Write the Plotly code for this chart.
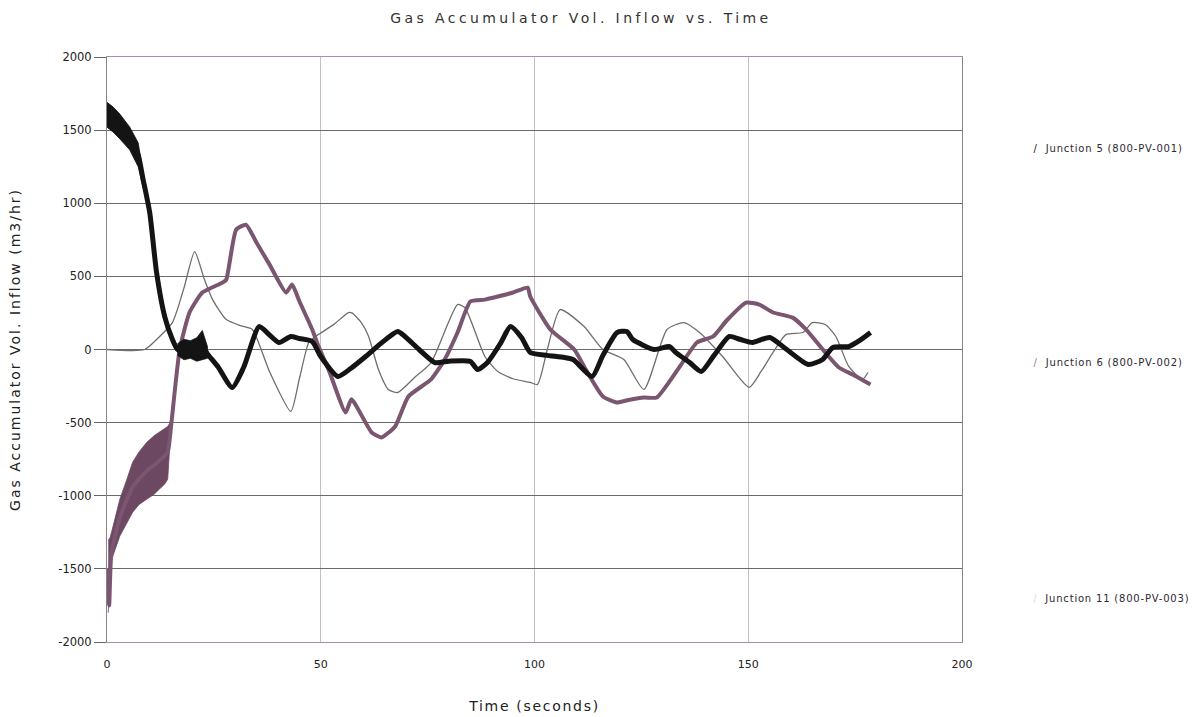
import plotly.graph_objects as go

# ---------------- data ----------------
title_text = "Gas Accumulator Vol. Inflow vs. Time"
x_title = "Time (seconds)"
y_title = "Gas Accumulator Vol. Inflow (m3/hr)"
series_names = ["Junction 5 (800-PV-001)", "Junction 6 (800-PV-002)", "Junction 11 (800-PV-003)"]

x_ticks = [0, 50, 100, 150, 200]
x_tick_labels = ["0", "50", "100", "150", "200"]
y_ticks = [2000, 1500, 1000, 500, 0, -500, -1000, -1500, -2000]
y_tick_labels = ["2000", "1500", "1000", "500", "0", "-500", "-1000", "-1500", "-2000"]

# Junction 5 (black, thick)
t5 = [0, 1.4, 5.3, 7.3, 8.4, 10, 11.6, 13.5, 15.3, 16.5, 18, 20, 22.3, 23.5, 26, 29.3, 32,
      35.6, 38, 40.2, 43, 45, 48, 50, 54, 57, 60.5, 64, 68, 69.7, 73, 76.7, 80, 85, 86.7,
      89, 92, 94.4, 97, 99, 103, 107, 109, 113.5, 116, 119.3, 121.6, 123, 128, 131.6, 133,
      136.3, 139, 142, 145.6, 148, 151, 155, 159, 164, 167.4, 169.8, 173.5, 176, 178.6]
v5 = [1600, 1570, 1450, 1330, 1170, 935, 525, 225, 68, 0, -20, -10, 20, -30, -120, -260, -120,
      157, 100, 48, 89, 75, 55, -48, -184, -130, -48, 40, 123, 89, 0, -89, -80, -82, -137,
      -89, 40, 157, 80, -20, -40, -55, -68, -184, -40, 116, 123, 68, 0, 20, -20,
      -89, -150, -40, 89, 70, 48, 82, 0, -102, -68, 14, 20, 60, 116]
# noisy band envelopes of Junction 5
t5_band_a = [0, 1.4, 3, 5.3, 7.3, 8.4, 9]
v5_hi_a = [1690, 1659, 1610, 1522, 1413, 1229, 1100]
v5_lo_a = [1520, 1488, 1440, 1365, 1249, 1113, 1050]
t5_band_b = [16.5, 18, 19.5, 21, 22.3, 23.5]
v5_hi_b = [40, 70, 60, 80, 130, 20]
v5_lo_b = [-40, -70, -60, -80, -70, -60]

# Junction 6 (mauve, thick)
t6 = [0, 0.5, 1, 3, 6, 9.3, 12.3, 14.2, 15, 17, 19.3, 22.3, 27, 27.9, 30.2, 32.5, 35, 38,
      41.9, 43.3, 45, 48, 49.5, 52, 55.8, 57.2, 61.9, 64.2, 67.4, 70.5, 75.8, 79, 82, 85,
      88.4, 91.4, 95, 98.4, 99, 103.7, 109.3, 112, 116, 119.3, 122, 125.6, 128.6, 134, 138,
      141.8, 145, 149.5, 152.6, 155.8, 160.4, 163.5, 168, 171.2, 174.4, 178.6]
v6 = [-1500, -1750, -1400, -1150, -940, -830, -760, -700, -520, 0, 253, 389, 457, 478, 819, 853, 730, 582,
      389, 444, 330, 137, 20, -150, -430, -341, -567, -601, -526, -321, -205, -68, 116, 328,
      341, 362, 390, 423, 362, 137, 0, -137, -321, -362, -345, -328, -328, -116, 48,
      89, 200, 321, 307, 253, 218, 137, -20, -123, -171, -239]
t6_band = [0.3, 0.7, 1.5, 3, 4.5, 6, 7.5, 9.3, 11, 12.3, 13.5, 14.2, 14.8]
v6_hi = [-1300, -1290, -1200, -1024, -900, -771, -700, -635, -590, -567, -540, -526, -498]
v6_lo = [-1800, -1480, -1400, -1276, -1200, -1113, -1060, -1024, -990, -956, -920, -887, -600]

# Junction 11 (gray, thin)
t11 = [0, 8.8, 12, 15.3, 18, 20.5, 22.8, 24.7, 27.9, 31.6, 34, 38, 43, 45, 47.2, 48.8, 53,
       56.5, 57.3, 59.5, 61.2, 63.5, 65.8, 68, 72, 75.8, 82, 83.7, 88.4, 91.4, 95, 99, 100.7,
       103, 106, 111.6, 116, 120.9, 125.6, 131, 135, 138.6, 144, 150.2, 153, 155.8, 158.8,
       162.8, 165, 168, 170.5, 173.5, 176.7, 178]
v11 = [0, 0, 80, 184, 420, 669, 478, 341, 205, 160, 137, -150, -423, -200, 48, 89, 170,
       253, 250, 184, 89, -137, -273, -294, -190, -89, 307, 287, -48, -150, -200, -225, -239,
       0, 273, 157, 0, -68, -273, 137, 184, 116, -48, -259, -150, -20, 102,
       116, 184, 171, 89, -116, -205, -157]

# ---------------- styles ----------------
c5 = "#141414"
c6 = "#7a5670"
c11 = "#6e6e6e"
font_family = "DejaVu Sans, Verdana, sans-serif"

fig = go.Figure()


def band(t, hi, lo, color, name):
    fig.add_trace(go.Scatter(
        x=list(t) + list(t)[::-1], y=list(hi) + list(lo)[::-1],
        fill="toself", fillcolor=color, line=dict(width=0.8, color=color),
        mode="lines", showlegend=False, hoverinfo="skip", name=name))


fig.add_trace(go.Scatter(x=t11, y=v11, mode="lines", name=series_names[2],
                         line=dict(color=c11, width=1.3, shape="spline", smoothing=0.6),
                         showlegend=False))
band(t6_band, v6_hi, v6_lo, "#6c4862", series_names[1])
fig.add_trace(go.Scatter(x=t6, y=v6, mode="lines", name=series_names[1],
                         line=dict(color=c6, width=4, shape="spline", smoothing=0.5),
                         showlegend=False))
band(t5_band_a, v5_hi_a, v5_lo_a, c5, series_names[0])
band(t5_band_b, v5_hi_b, v5_lo_b, c5, series_names[0])
fig.add_trace(go.Scatter(x=t5, y=v5, mode="lines", name=series_names[0],
                         line=dict(color=c5, width=5, shape="spline", smoothing=0.6),
                         showlegend=False))

# legend drawn as text labels to the right of the plot
legend_y = [0.844, 0.477, 0.075]
legend_mark_colors = [c5, "#9a7a92", "#e0dce0"]
for name, yy, mc in zip(series_names, legend_y, legend_mark_colors):
    fig.add_annotation(xref="paper", yref="paper", x=1.093, y=yy, xanchor="left",
                       yanchor="middle", showarrow=False,
                       text=f"<span style='color:{mc}'>/</span>  {name}",
                       font=dict(size=10, color="#2e2830", family=font_family))

fig.update_layout(
    width=1202, height=717,
    paper_bgcolor="white", plot_bgcolor="white",
    margin=dict(l=107, r=240, t=57, b=75, autoexpand=False),
    font=dict(family=font_family, color="#222"),
    title=dict(text=title_text, x=581 / 1202, xref="container", xanchor="center",
               y=1 - 18 / 717, yref="container", yanchor="middle",
               font=dict(size=14, color="#333", family=font_family)),
    xaxis=dict(range=[0, 200], tickvals=x_ticks, ticktext=x_tick_labels, ticks="",
               ticklabelstandoff=12, automargin=False,
               showgrid=True, gridcolor="#c9bcc8", gridwidth=1, zeroline=False,
               showline=True, linecolor="#a88ea8", linewidth=1, mirror=True,
               tickfont=dict(size=11, color="#222"),
               title=dict(text=x_title, font=dict(size=14, color="#222"), standoff=30)),
    yaxis=dict(range=[-2000, 2000], tickvals=y_ticks, ticktext=y_tick_labels,
               ticks="outside", ticklen=12, tickcolor="#666", tickwidth=1, automargin=False,
               showgrid=True, gridcolor="#6a6a6a", gridwidth=1, zeroline=False,
               showline=True, linecolor="#8a8090", linewidth=1, mirror=True,
               tickfont=dict(size=11.5, color="#222"),
               title=dict(text=y_title, font=dict(size=14, color="#222"), standoff=34)),
)

# page tweaks: no body margin; widen the letter spacing of the scanned-looking titles
post_js = """
document.body.style.margin = '0px';
function spaceText() {
  var rules = [['.gtitle', '3.4px'], ['.ytitle', '2px'], ['.xtitle', '1.7px'],
               ['.annotation-text', '0.8px']];
  rules.forEach(function (r) {
    document.querySelectorAll(r[0]).forEach(function (el) {
      el.style.letterSpacing = r[1];
    });
  });
}
spaceText();
setTimeout(spaceText, 200);
"""

fig.write_html("out.html", post_script=post_js, config={"displayModeBar": False})
